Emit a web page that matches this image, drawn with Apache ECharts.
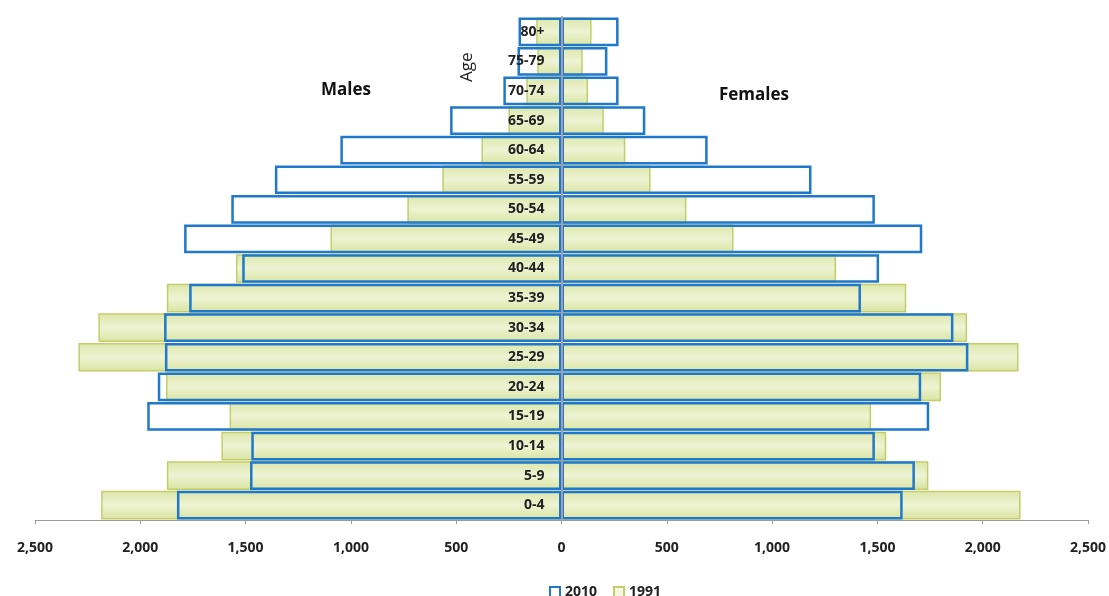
<!DOCTYPE html>
<html>
<head>
<meta charset="utf-8">
<script src="https://cdn.jsdelivr.net/npm/echarts@6/dist/echarts.min.js"></script>
<style>
  html, body { margin: 0; padding: 0; background: #ffffff; }
  #chart { width: 1109px; height: 596px; }
</style>
</head>
<body>
<div id="chart"></div>
<script>
// Age groups, youngest at the bottom
const ageGroups = ['0-4', '5-9', '10-14', '15-19', '20-24', '25-29', '30-34', '35-39',
  '40-44', '45-49', '50-54', '55-59', '60-64', '65-69', '70-74', '75-79', '80+'];

// Population counts per age group
const males2010 = [1826, 1479, 1473, 1967, 1917, 1883, 1887, 1768, 1516, 1792, 1568, 1361, 1050, 529, 276, 209, 204];
const females2010 = [1620, 1678, 1488, 1746, 1708, 1932, 1861, 1422, 1508, 1713, 1488, 1187, 694, 398, 271, 218, 271];
const males1991 = [2186, 1874, 1615, 1576, 1878, 2294, 2199, 1874, 1546, 1097, 732, 566, 380, 252, 167, 115, 120];
const females1991 = [2180, 1742, 1542, 1470, 1802, 2170, 1926, 1637, 1304, 817, 593, 423, 303, 201, 126, 101, 143];

// Axis ticks
const tickMin = -2500, tickMax = 2500, tickStep = 500;

const BLUE = '#1f78c9';
const GREEN_EDGE = '#c3ce6a';
const greenFill = new echarts.graphic.LinearGradient(0, 0, 0, 1, [
  { offset: 0, color: '#dce7aa' },
  { offset: 0.5, color: '#eef3d3' },
  { offset: 1, color: '#d8e4a0' }
]);

const neg = arr => arr.map(v => -v);
const fmt = v => Math.abs(v).toLocaleString('en-US');

const labelFont = '"Open Sans", Lato, sans-serif';

const gridLeft = 35, gridRight = 21, chartWidth = 1109;
const plotWidth = chartWidth - gridLeft - gridRight;

const chart = echarts.init(document.getElementById('chart'), null, { renderer: 'canvas' });

const oldStyle = {
  color: greenFill,
  borderColor: GREEN_EDGE,
  borderWidth: 1.5
};
const newStyle = {
  color: 'rgba(0,0,0,0)',
  borderColor: BLUE,
  borderWidth: 2.5
};

chart.setOption({
  animation: false,
  backgroundColor: '#ffffff',
  grid: { left: gridLeft, right: gridRight, top: 17, bottom: 76, containLabel: false },
  legend: {
    bottom: -8,
    left: 544,
    itemWidth: 10,
    itemHeight: 10,
    itemGap: 16,
    icon: 'rect',
    textStyle: { fontFamily: labelFont, fontWeight: 'bold', fontSize: 14, color: '#222' },
    data: [
      { name: '2010', itemStyle: { color: '#ffffff', borderColor: BLUE, borderWidth: 2 } },
      { name: '1991', itemStyle: { color: '#f4f7e0', borderColor: GREEN_EDGE, borderWidth: 2 } }
    ]
  },
  xAxis: {
    type: 'value',
    min: tickMin,
    max: tickMax,
    interval: tickStep,
    splitLine: { show: false },
    axisLine: { show: true, lineStyle: { color: '#9a9a9a', width: 1 } },
    axisTick: { show: true, length: 4, lineStyle: { color: '#9a9a9a' } },
    axisLabel: {
      formatter: fmt,
      margin: 21,
      fontFamily: labelFont,
      fontWeight: 'bold',
      fontSize: 14,
      color: '#222'
    }
  },
  yAxis: {
    type: 'category',
    data: ageGroups,
    position: 'left',
    // the age axis sits on the zero line in the middle of the plot
    offset: -plotWidth / 2,
    axisLine: { show: true, onZero: false, lineStyle: { color: '#a39dad', width: 2 } },
    axisTick: { show: false },
    axisLabel: {
      margin: 17,
      fontFamily: labelFont,
      fontWeight: 'bold',
      fontSize: 14,
      color: '#222'
    },
    z: 10
  },
  series: [
    { name: '1991', type: 'bar', stack: 'y1991', data: neg(males1991), itemStyle: oldStyle, barCategoryGap: '3%', barGap: '-100%', z: 2 },
    { name: '1991', type: 'bar', stack: 'y1991', data: females1991, itemStyle: oldStyle, barCategoryGap: '3%', barGap: '-100%', z: 2 },
    { name: '2010', type: 'bar', stack: 'y2010', data: neg(males2010), itemStyle: newStyle, barCategoryGap: '3%', barGap: '-100%', z: 3 },
    { name: '2010', type: 'bar', stack: 'y2010', data: females2010, itemStyle: newStyle, barCategoryGap: '3%', barGap: '-100%', z: 3 }
  ],
  graphic: [
    { type: 'text', left: 321, top: 82, style: { text: 'Males', font: 'bold 17px ' + labelFont, fill: '#111' } },
    { type: 'text', left: 719, top: 87, style: { text: 'Females', font: 'bold 17px ' + labelFont, fill: '#111' } },
    { type: 'text', x: 459, y: 82, rotation: Math.PI / 2, style: { text: 'Age', font: '17px ' + labelFont, fill: '#222' } }
  ]
});
</script>
</body>
</html>
